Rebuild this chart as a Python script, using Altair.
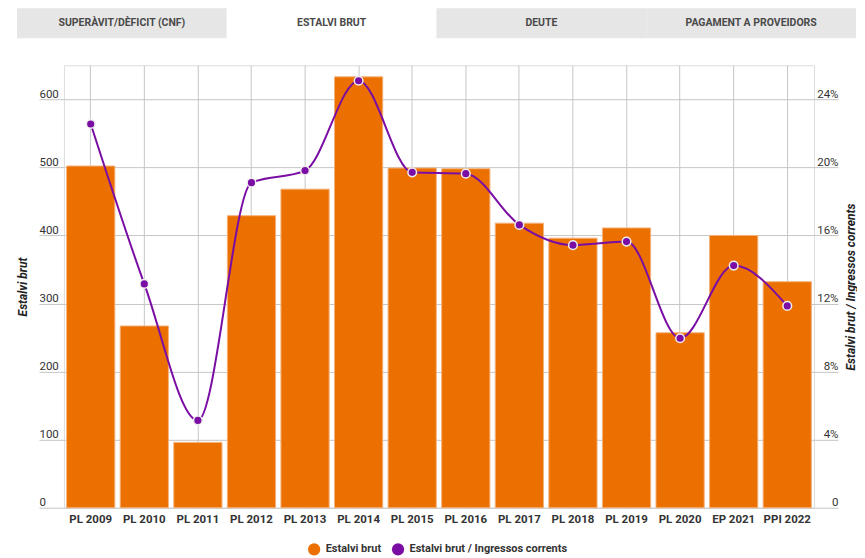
import altair as alt
import pandas as pd

# ---- data ----
tabs = ["SUPERÀVIT/DÈFICIT (CNF)", "ESTALVI BRUT", "DEUTE", "PAGAMENT A PROVEIDORS"]
selected_tab = "ESTALVI BRUT"

categories = ["PL 2009", "PL 2010", "PL 2011", "PL 2012", "PL 2013", "PL 2014", "PL 2015",
              "PL 2016", "PL 2017", "PL 2018", "PL 2019", "PL 2020", "EP 2021", "PPI 2022"]
estalvi_brut = [502, 267, 96, 429, 468, 633, 499, 498, 418, 396, 411, 257, 400, 332]
ratio_pct = [22.55, 13.15, 5.13, 19.10, 19.81, 25.09, 19.71, 19.63, 16.62, 15.43, 15.64, 9.96, 14.23, 11.86]

series_names = ["Estalvi brut", "Estalvi brut / Ingressos corrents"]
series_colors = ["#EC7000", "#7A0DA3"]

left_ticks = [0, 100, 200, 300, 400, 500, 600]
right_ticks = [0, 4, 8, 12, 16, 20, 24]

df = pd.DataFrame({"cat": categories, "estalvi": estalvi_brut, "ratio": ratio_pct,
                   "bar_series": series_names[0], "line_series": series_names[1]})
tab_df = pd.DataFrame({"tab": tabs,
                       "fill": ["#ffffff" if t == selected_tab else "#e6e6e6" for t in tabs]})

GRID = "#c6c6c6"
FONT = "Roboto"

# ---- tab strip (drawn above the plot area) ----
tab_x = alt.X("tab:N", sort=tabs, axis=None,
              scale=alt.Scale(paddingInner=0, paddingOuter=0, range=[-47, 793]))
tab_rect = alt.Chart(tab_df).mark_rect().encode(
    x=tab_x, y=alt.value(-57), y2=alt.value(-27), fill=alt.Fill("fill:N", scale=None))
tab_text = alt.Chart(tab_df).mark_text(font=FONT, fontWeight="bold", fontSize=10.5,
                                       color="#4a4a4a").encode(
    x=tab_x, y=alt.value(-42), text="tab:N")
tab_layer = alt.layer(tab_rect, tab_text)

# ---- main chart ----
x_enc = alt.X("cat:N", sort=categories, title=None,
              scale=alt.Scale(paddingInner=0.1, paddingOuter=0.05),
              axis=alt.Axis(labelAngle=0, domain=False, ticks=False, grid=True, gridColor=GRID,
                            labelFont=FONT, labelFontWeight="bold", labelFontSize=11.5,
                            labelColor="#333333", labelPadding=6))

color_scale = alt.Scale(domain=series_names, range=series_colors)

bars = alt.Chart(df).mark_bar(stroke="#f4b27a", strokeWidth=1).encode(
    x=x_enc,
    y=alt.Y("estalvi:Q", scale=alt.Scale(domain=[0, 650], nice=False),
            axis=alt.Axis(title="Estalvi brut", values=left_ticks, orient="left", domain=False,
                          grid=True, gridColor=GRID, tickColor=GRID, tickSize=25,
                          labelAlign="left", labelBaseline="bottom", labelPadding=0,
                          labelFont=FONT, labelFontSize=11.5, labelColor="#333333",
                          titleFont=FONT, titleFontStyle="italic", titleFontWeight="bold",
                          titleFontSize=12, titleColor="#222222", titlePadding=9)),
    color=alt.Color("bar_series:N", scale=color_scale,
                    legend=alt.Legend(title=None, orient="none", legendX=244, legendY=478,
                                      direction="horizontal",
                                      symbolType="circle", symbolSize=150, symbolStrokeWidth=0,
                                      labelFont=FONT, labelFontWeight="bold", labelFontSize=11,
                                      labelColor="#333333", labelOffset=5, columnPadding=10)),
)

y_right = alt.Y("ratio:Q", scale=alt.Scale(domain=[0, 26], nice=False),
                axis=alt.Axis(title="Estalvi brut / Ingressos corrents", values=right_ticks,
                              orient="right", domain=False, grid=False, tickColor=GRID, tickSize=24,
                              labelAlign="right", labelBaseline="bottom", labelPadding=0,
                              labelExpr="datum.value == 0 ? '0' : datum.value + '%'",
                              labelFont=FONT, labelFontSize=11.5, labelColor="#333333",
                              titleFont=FONT, titleFontStyle="italic", titleFontWeight="bold",
                              titleFontSize=12, titleColor="#222222", titlePadding=7,
                              titleAngle=270, titleBaseline="top"))

line = alt.Chart(df).mark_line(interpolate="monotone", strokeWidth=2).encode(
    x=x_enc, y=y_right,
    color=alt.Color("line_series:N", scale=color_scale, legend=None))
points = alt.Chart(df).mark_circle(size=75, opacity=1, stroke="#eeeeee", strokeWidth=1.5).encode(
    x=x_enc, y=y_right,
    color=alt.Color("line_series:N", scale=color_scale, legend=None))

main = alt.layer(bars, alt.layer(line, points)).resolve_scale(y="independent")

chart = alt.layer(tab_layer, main).resolve_scale(x="independent").properties(
    width=751, height=443,
    padding={"left": 8, "top": 0, "right": 0, "bottom": 0}
).configure_view(stroke=None).configure(background="white")

chart.save("out.html", embed_options={"renderer": "svg", "actions": False})
